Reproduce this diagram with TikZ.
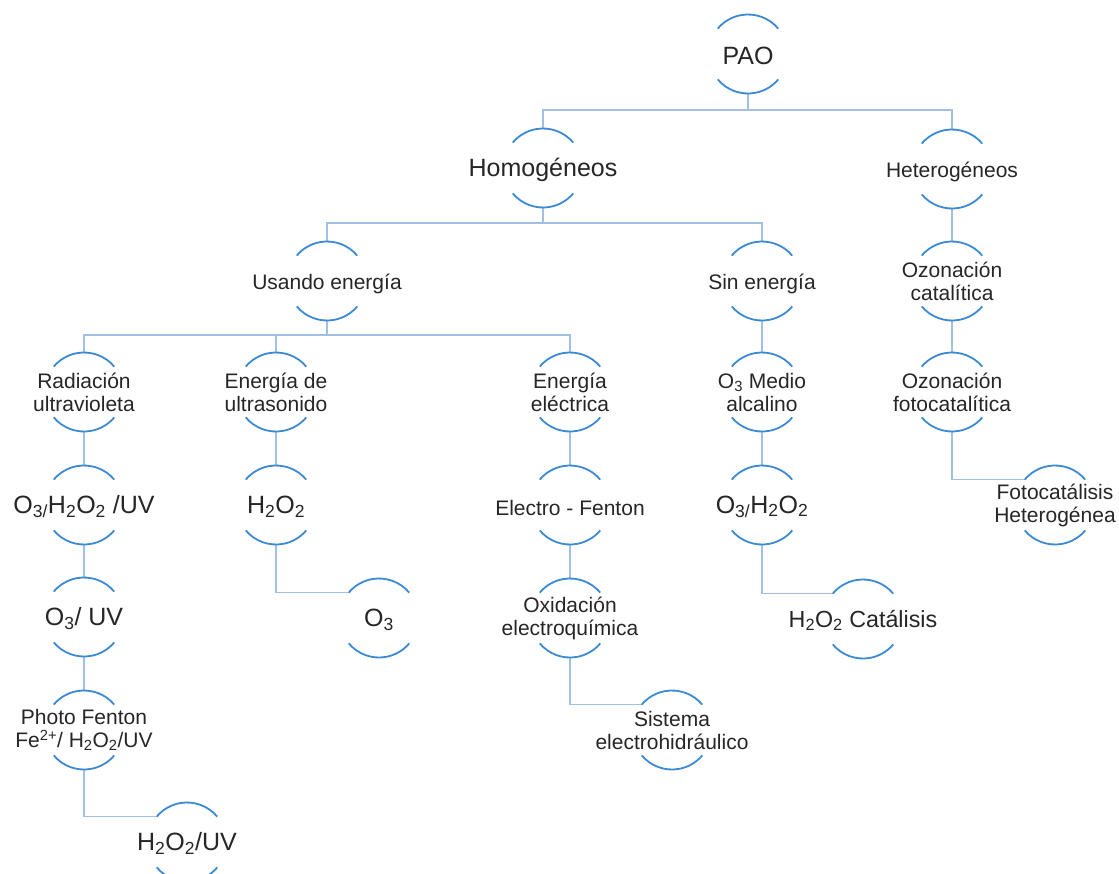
\documentclass[tikz,border=0pt]{standalone}
\usepackage{fontspec}
\setmainfont{Liberation Sans}
\usetikzlibrary{calc}
\newcommand{\sbs}[1]{\textsubscript{#1}}
\newcommand{\sps}[1]{\textsuperscript{#1}}
\definecolor{arcblue}{HTML}{3C8AD4}
\definecolor{edgeblue}{HTML}{A3BFE6}
\definecolor{txtgray}{HTML}{262626}
\begin{document}
\begin{tikzpicture}[x=1pt,y=1pt,
  bub/.style={circle, minimum size=79pt, inner sep=0pt, outer sep=0pt},
  big/.style={font=\fontsize{25}{27}\selectfont, text=txtgray, inner sep=0pt, align=center, yshift=-1.5pt},
  mid/.style={font=\fontsize{23.3}{25}\selectfont, text=txtgray, inner sep=0pt, align=center, yshift=-1.5pt},
  sml/.style={font=\fontsize{21}{23}\selectfont, text=txtgray, inner sep=0pt, align=center},
  sml1/.style={sml, yshift=-2.5pt},
  edge/.style={draw=edgeblue, line width=1.4pt},
  rim/.style={draw=arcblue, line width=1.8pt}]
\useasboundingbox[fill=white] (0,0) rectangle (1119,-873);

\node[bub, label={[big]center:PAO}] (pao) at (748,-54) {};
\node[bub, label={[big]center:Homogéneos}] (hom) at (543,-168) {};
\node[bub, label={[sml1]center:Heterogéneos}] (het) at (952,-169) {};
\node[bub, label={[sml1]center:Usando energía}] (usa) at (327,-281) {};
\node[bub, label={[sml1]center:Sin energía}] (sin) at (762,-281) {};
\node[bub, label={[sml]center:{Ozonación\\catalítica}}] (ozc) at (952,-281) {};
\node[bub, label={[sml]center:{Radiación\\ultravioleta}}] (rad) at (84,-392) {};
\node[bub, label={[sml]center:{Energía de\\ultrasonido}}] (ult) at (276,-392) {};
\node[bub, label={[sml]center:{Energía\\eléctrica}}] (ele) at (570,-392) {};
\node[bub, label={[sml]center:{O\sbs{3} Medio\\alcalino}}] (o3m) at (762,-392) {};
\node[bub, label={[sml]center:{Ozonación\\fotocatalítica}}] (ozf) at (952,-392) {};
\node[bub, label={[big]center:{O\sbs{3/}H\sbs{2}O\sbs{2} /UV}}] (uv1) at (84,-505) {};
\node[bub, label={[big]center:{H\sbs{2}O\sbs{2}}}] (h2o) at (276,-505) {};
\node[bub, label={[sml1]center:{Electro - Fenton}}] (elf) at (570,-505) {};
\node[bub, label={[big]center:{O\sbs{3/}H\sbs{2}O\sbs{2}}}] (o3h) at (762,-505) {};
\node[bub, label={[sml]center:{Fotocatálisis\\Heterogénea}}] (fot) at (1055,-505) {};
\node[bub, label={[big]center:{O\sbs{3}/ UV}}] (o3u) at (84,-617) {};
\node[bub, label={[big]center:{O\sbs{3}}}] (o3) at (379,-618) {};
\node[bub, label={[sml]center:{Oxidación\\electroquímica}}] (oxi) at (570,-618) {};
\node[bub, label={[mid]center:{H\sbs{2}O\sbs{2} Catálisis}}] (cat) at (863,-619) {};
\node[bub, label={[sml]center:{Photo Fenton\\Fe\sps{2+}/ H\sbs{2}O\sbs{2}/UV}}] (pho) at (84,-730) {};
\node[bub, label={[sml]center:{Sistema\\electrohidráulico}}] (sis) at (672,-730) {};
\node[bub, label={[big]center:{H\sbs{2}O\sbs{2}/UV}}] (huv) at (187,-842) {};

\coordinate (b1) at (0,-110);
\coordinate (b2) at (0,-223);
\coordinate (b3) at (0,-335);

\draw[edge] (pao.south) -- (pao.south |- b1) -| (hom.north);
\draw[edge] (pao.south |- b1) -| (het.north);
\draw[edge] (hom.south) -- (hom.south |- b2) -| (usa.north);
\draw[edge] (hom.south |- b2) -| (sin.north);
\draw[edge] (usa.south) -- (usa.south |- b3) -| (rad.north);
\draw[edge] (usa.south |- b3) -| (ult.north);
\draw[edge] (usa.south |- b3) -| (ele.north);

\draw[edge] (het.south) -- (ozc.north);
\draw[edge] (ozc.south) -- (ozf.north);
\draw[edge] (sin.south) -- (o3m.north);
\draw[edge] (o3m.south) -- (o3h.north);
\draw[edge] (rad.south) -- (uv1.north);
\draw[edge] (uv1.south) -- (o3u.north);
\draw[edge] (o3u.south) -- (pho.north);
\draw[edge] (ult.south) -- (h2o.north);
\draw[edge] (ele.south) -- (elf.north);
\draw[edge] (elf.south) -- (oxi.north);

\draw[edge] (pho.south) |- (huv.140);
\draw[edge] (h2o.south) |- (o3.140);
\draw[edge] (oxi.south) |- (sis.140);
\draw[edge] (o3h.south) |- (cat.140);
\draw[edge] (ozf.south) |- (fot.140);

\foreach \n in {pao,hom,het,usa,sin,ozc,rad,ult,ele,o3m,ozf,uv1,h2o,elf,o3h,fot,o3u,o3,oxi,cat,pho,sis,huv}{
  \draw[rim] (\n.40) arc[start angle=40,end angle=140,radius=39.5pt];
  \draw[rim] (\n.220) arc[start angle=220,end angle=320,radius=39.5pt];
}
\end{tikzpicture}
\end{document}
